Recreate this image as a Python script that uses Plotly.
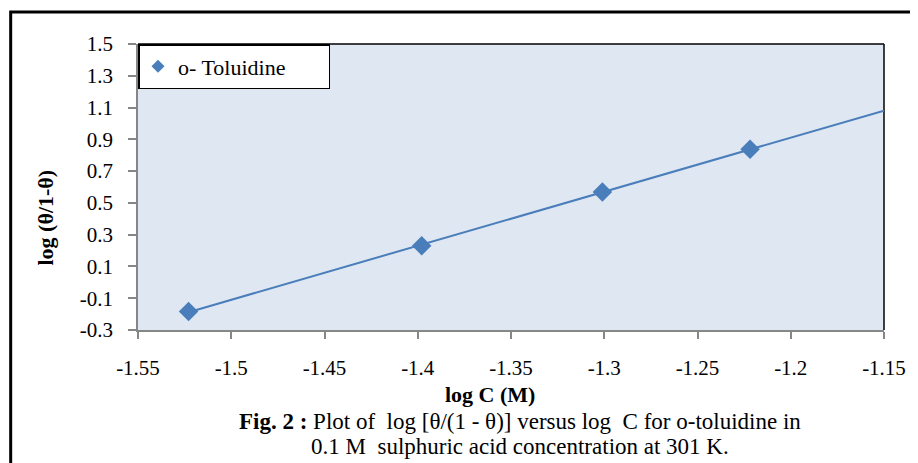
import numpy as np
import plotly.graph_objects as go

# ---- data ----
log_c = [-1.5229, -1.3979, -1.3010, -1.2218]
log_theta = [-0.184, 0.230, 0.569, 0.838]
series_name = "o- Toluidine"
trend_end = -1.15

x_ticks = [-1.55, -1.5, -1.45, -1.4, -1.35, -1.3, -1.25, -1.2, -1.15]
x_ticktext = ["-1.55", "-1.5", "-1.45", "-1.4", "-1.35", "-1.3", "-1.25", "-1.2", "-1.15"]
y_ticks = [-0.3, -0.1, 0.1, 0.3, 0.5, 0.7, 0.9, 1.1, 1.3, 1.5]
y_ticktext = ["-0.3", "-0.1", "0.1", "0.3", "0.5", "0.7", "0.9", "1.1", "1.3", "1.5"]

x_title = "log C (M)"
y_title = "log (θ/1-θ)"
caption1 = "<b>Fig. 2 :</b> Plot of  log [θ/(1 - θ)] versus log  C for o-toluidine in"
caption2 = "0.1 M  sulphuric acid concentration at 301 K."

# ---- trendline (linear fit of the data) ----
slope, intercept = np.polyfit(log_c, log_theta, 1)
trend_x = [log_c[0], trend_end]
trend_y = [slope * v + intercept for v in trend_x]

FONT = "Liberation Serif, Times New Roman, serif"
BLUE = "#4a7ebb"

fig = go.Figure()
fig.add_trace(go.Scatter(x=trend_x, y=trend_y, mode="lines",
                         line=dict(color=BLUE, width=2), showlegend=False,
                         hoverinfo="skip"))
fig.add_trace(go.Scatter(x=log_c, y=log_theta, mode="markers", name=series_name,
                         marker=dict(symbol="diamond", size=15, color=BLUE),
                         showlegend=False, legendgroup="s"))
fig.add_trace(go.Scatter(x=[None], y=[None], mode="markers", name=series_name,
                         marker=dict(symbol="diamond", size=10, color=BLUE),
                         showlegend=True, legendgroup="s"))

# page body has an 8px margin: the figure is drawn 8px in from the window corner
OFF = 8
W, H = 918 - OFF, 463 - OFF
PL, PT, PR, PB = 138, 44, 888, 330          # plot area in window pixels
L, T = PL - OFF, PT - OFF
R = W - (PR - OFF)
B = H - (PB - OFF)
pw, ph = PR - PL, PB - PT

def px(x):
    return (x - PL) / pw

def py(y):
    return (PB - y) / ph

fig.update_layout(
    width=W, height=H,
    margin=dict(l=L, r=R, t=T, b=B, pad=0),
    paper_bgcolor="white",
    plot_bgcolor="#dfe7f2",
    font=dict(family=FONT, size=21, color="black"),
    showlegend=True,
    legend=dict(x=0, y=1, xanchor="left", yanchor="top",
                bgcolor="white", bordercolor="black", borderwidth=1.5,
                font=dict(family=FONT, size=22, color="black"),
                orientation="h", entrywidth=145, entrywidthmode="pixels",
                itemwidth=30, tracegroupgap=0),
)

fig.update_xaxes(range=[-1.55, -1.15], tickvals=x_ticks, ticktext=x_ticktext,
                 showgrid=False, zeroline=False, showline=True,
                 linecolor="#868686", linewidth=1.5,
                 ticks="outside", ticklen=7, tickcolor="#868686", tickwidth=1.5,
                 ticklabelstandoff=11,
                 tickfont=dict(family=FONT, size=21, color="black"))
fig.update_yaxes(range=[-0.3, 1.5], tickvals=y_ticks, ticktext=y_ticktext,
                 showgrid=False, zeroline=False, showline=True,
                 linecolor="#868686", linewidth=1.5,
                 ticks="outside", ticklen=8, tickcolor="#868686", tickwidth=1.5,
                 ticklabelstandoff=11,
                 tickfont=dict(family=FONT, size=21, color="black"))

# plot-area border (top and right) + outer frame
fig.add_shape(type="line", xref="paper", yref="paper", x0=0, y0=1, x1=1, y1=1,
              line=dict(color="black", width=1.5), layer="below")
fig.add_shape(type="line", xref="paper", yref="paper", x0=1, y0=0, x1=1, y1=1,
              line=dict(color="black", width=1.5), layer="below")
fig.add_shape(type="path", xref="paper", yref="paper",
              path=f"M {px(10)} {py(490)} L {px(10)} {py(12)} L {px(940)} {py(12)}",
              line=dict(color="black", width=3))

fig.add_annotation(text=f"<b>{x_title}</b>", xref="paper", yref="paper",
                   x=px(492), y=py(394), xanchor="center", yanchor="middle",
                   showarrow=False, font=dict(family=FONT, size=22))
fig.add_annotation(text=f"<b>{y_title}</b>", xref="paper", yref="paper",
                   x=px(45), y=py(217), xanchor="center", yanchor="middle",
                   textangle=-90, showarrow=False, font=dict(family=FONT, size=22))
fig.add_annotation(text=caption1, xref="paper", yref="paper",
                   x=px(522), y=py(421), xanchor="center", yanchor="middle",
                   showarrow=False, font=dict(family=FONT, size=23))
fig.add_annotation(text=caption2, xref="paper", yref="paper",
                   x=px(522), y=py(446), xanchor="center", yanchor="middle",
                   showarrow=False, font=dict(family=FONT, size=23))

fig.write_html("out.html")
